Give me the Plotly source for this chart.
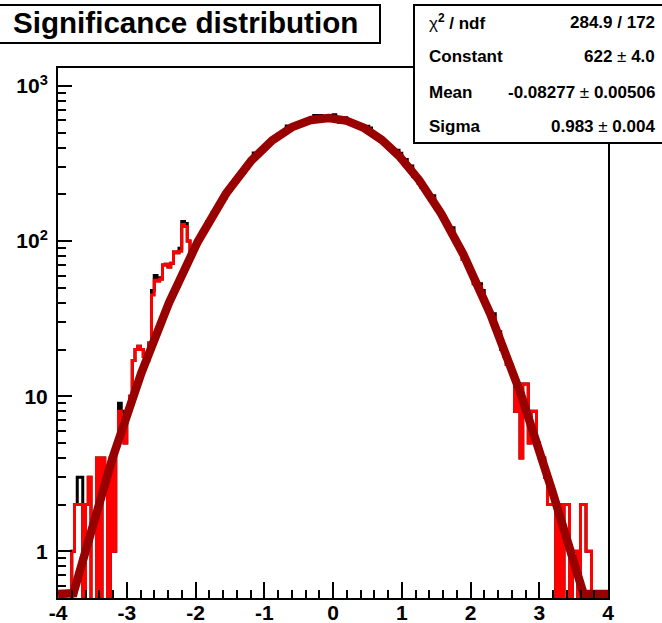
import numpy as np
import plotly.graph_objects as go

# ---- histogram binning --------------------------------------------------
X_MIN, X_MAX, N_BINS = -4.0, 4.0, 200

# red histogram: entries per bin (bin width 0.04), left to right
COUNTS_LEFT_TAIL = [0, 0, 0, 0, 0, 1, 2, 2, 2, 0,
                    2, 3, 0, 0, 4, 0, 4, 3, 0, 4,
                    1, 5, 8, 7, 5, 8, 10, 17, 20, 21,
                    20, 18, 17, 22, 45, 56, 55, 57, 70, 71,
                    68, 72, 85, 84, 86, 128, 124, 100]
COUNTS_LEFT_SLOPE = [84, 90, 95, 103, 114, 120, 133, 138, 152, 158,
                     174, 180, 188, 200, 214, 235, 248, 258, 265, 280,
                     305, 316, 338, 355, 362, 370, 383, 402, 428, 437,
                     458, 466, 488, 494, 515, 532, 533, 551, 555, 572,
                     574, 590, 591, 604, 603, 622, 613, 625, 618, 624,
                     619, 617]
COUNTS_RIGHT_SLOPE = [630, 612, 584, 598, 603, 590, 588, 574, 570, 552,
                      548, 530, 530, 515, 492, 480, 466, 440, 428, 425,
                      405, 394, 376, 370, 354, 330, 323, 300, 292, 262,
                      256, 236, 222, 218, 206, 191, 188, 168, 160, 147,
                      140, 127, 119, 117, 104, 96, 87, 76, 73, 66,
                      62, 53, 52, 51, 46, 40, 36, 33, 32, 27,
                      25, 20, 18]
COUNTS_RIGHT_TAIL = [16, 16, 14, 8, 12, 4, 12, 12, 5, 8,
                     8, 5, 4, 4, 3, 2, 2, 2, 0, 2,
                     0, 2, 2, 0, 1, 1, 0, 2, 2, 1,
                     1, 0, 0, 0, 0, 0, 0]

# black histogram: identical to the red one except in these bins
BLACK_BIN_INDEX = [7, 8, 22, 23, 34, 35, 36, 44, 45, 46,
                   71, 83, 93, 95, 100, 104, 112, 113, 123, 124,
                   126, 128, 136, 143, 153, 154, 158, 160]
BLACK_BIN_COUNTS = [3, 3, 9, 8, 48, 60, 58, 90, 134, 130,
                    370, 552, 645, 645, 652, 625, 550, 535, 385, 368,
                    336, 305, 196, 122, 53, 48, 34, 26]

# ---- gaussian fit result --------------------------------------------------
FIT_CONSTANT = 622.0
FIT_MEAN = -0.08277
FIT_SIGMA = 0.983

STAT_LABELS = ["<span style='font-weight:normal'>χ</span><sup>2</sup> / ndf",
               "Constant", "Mean", "Sigma"]
STAT_VALUES = ["284.9 / 172",
               "622<span style='font-weight:normal'> ± </span>4.0",
               "-0.08277<span style='font-weight:normal'> ± </span>0.00506",
               "0.983<span style='font-weight:normal'> ± </span>0.004"]

TITLE = "Significance distribution"

# ---- axes --------------------------------------------------------------
X_TICK_VALS = [-4, -3, -2, -1, 0, 1, 2, 3, 4]
X_TICK_LABELS = ["-4", "-3", "-2", "-1", "0", "1", "2", "3", "4"]
Y_TICK_VALS = [1, 10, 100, 1000]
Y_TICK_LABELS = ["1", "10", "10<sup>2</sup>", "10<sup>3</sup>"]
Y_MIN, Y_MAX = 0.5, 1306.0

red_counts = np.array(COUNTS_LEFT_TAIL + COUNTS_LEFT_SLOPE
                      + COUNTS_RIGHT_SLOPE + COUNTS_RIGHT_TAIL, dtype=float)
assert red_counts.size == N_BINS
black_counts = red_counts.copy()
black_counts[BLACK_BIN_INDEX] = BLACK_BIN_COUNTS

edges = np.linspace(X_MIN, X_MAX, N_BINS + 1)

# empty bins drop below the visible log range
FLOOR = 1e-3


def step_values(counts):
    y = np.where(counts > 0, counts, FLOOR)
    return np.append(y, y[-1])


# fitted gaussian, held at the bottom of the frame where it leaves the range
fit_x = np.linspace(X_MIN, X_MAX, 1601)
fit_y = FIT_CONSTANT * np.exp(-0.5 * ((fit_x - FIT_MEAN) / FIT_SIGMA) ** 2)
fit_y = np.maximum(fit_y, Y_MIN * 1.06)

fig = go.Figure()
fig.add_trace(go.Scatter(x=edges, y=step_values(black_counts), mode="lines",
                         line_shape="hv", line=dict(color="black", width=3)))
fig.add_trace(go.Scatter(x=edges, y=step_values(red_counts), mode="lines",
                         line_shape="hv", line=dict(color="#ff0000", width=3)))
fig.add_trace(go.Scatter(x=fit_x, y=fit_y, mode="lines",
                         line=dict(color="#990000", width=8.5)))

FONT = "Liberation Sans, Arial, Helvetica, sans-serif"
L, R, T, B = 58, 54, 68, 25
W, H = 662, 623
PW, PH = W - L - R, H - T - B


def px_x(px):
    return (px - L) / PW


def px_y(py):
    return (H - B - py) / PH


minor_y = [m * 10.0 ** d for d in range(-1, 3) for m in range(2, 10)
           if Y_MIN <= m * 10.0 ** d <= Y_MAX]

fig.update_layout(
    width=W, height=H,
    margin=dict(l=L, r=R, t=T, b=B, autoexpand=False),
    paper_bgcolor="white", plot_bgcolor="white",
    showlegend=False,
    font=dict(family=FONT, color="black"),
    xaxis=dict(
        range=[X_MIN, X_MAX], showgrid=False, zeroline=False, automargin=False,
        showline=True, linecolor="black", linewidth=2, mirror=True,
        tickmode="array", tickvals=X_TICK_VALS, ticktext=X_TICK_LABELS,
        ticks="inside", ticklen=16, tickwidth=2, tickcolor="black",
        tickfont=dict(size=21, family=FONT, weight="bold"),
        ticklabelstandoff=-5,
        minor=dict(tick0=X_MIN, dtick=0.2, ticks="inside", ticklen=8,
                   tickwidth=2, tickcolor="black", showgrid=False),
    ),
    yaxis=dict(
        type="log", range=[np.log10(Y_MIN), np.log10(Y_MAX)],
        showgrid=False, zeroline=False, automargin=False,
        showline=True, linecolor="black", linewidth=2, mirror=True,
        tickmode="array", tickvals=Y_TICK_VALS, ticktext=Y_TICK_LABELS,
        ticks="inside", ticklen=14, tickwidth=2, tickcolor="black",
        tickfont=dict(size=21, family=FONT, weight="bold"),
        ticklabelstandoff=4,
        minor=dict(tickmode="array", tickvals=minor_y, ticks="inside",
                   ticklen=8, tickwidth=2, tickcolor="black", showgrid=False),
    ),
)

# title box
fig.add_shape(type="rect", xref="paper", yref="paper",
              x0=px_x(-1), x1=px_x(380), y0=px_y(43), y1=px_y(5),
              line=dict(color="black", width=2), fillcolor="white",
              layer="above")
fig.add_annotation(xref="paper", yref="paper", x=px_x(11), y=px_y(22),
                   xanchor="left", yanchor="middle", showarrow=False,
                   text=TITLE,
                   font=dict(size=29.6, family=FONT, weight="bold"))

# fit statistics box
fig.add_shape(type="rect", xref="paper", yref="paper",
              x0=px_x(414), x1=px_x(666), y0=px_y(143), y1=px_y(5),
              line=dict(color="black", width=2), fillcolor="white",
              layer="above")
for i, (lab, val) in enumerate(zip(STAT_LABELS, STAT_VALUES)):
    yc = px_y(22 + 35 * i)
    fig.add_annotation(xref="paper", yref="paper", x=px_x(427), y=yc,
                       xanchor="left", yanchor="middle", showarrow=False,
                       text=lab, font=dict(size=17, family=FONT, weight="bold"))
    fig.add_annotation(xref="paper", yref="paper", x=px_x(657), y=yc,
                       xanchor="right", yanchor="middle", showarrow=False,
                       text=val, font=dict(size=17, family=FONT, weight="bold"))

fig.write_html("out.html")
